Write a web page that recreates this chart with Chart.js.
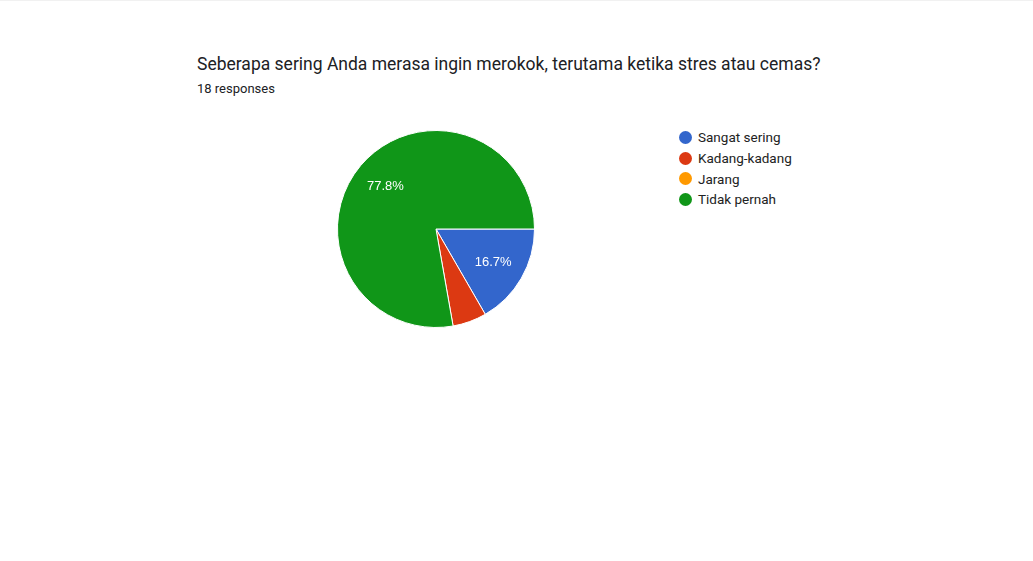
<!DOCTYPE html>
<html>
<head>
<meta charset="utf-8">
<script src="https://cdn.jsdelivr.net/npm/chart.js@4"></script>
<style>
  html, body { margin: 0; padding: 0; background: #fff; width: 1033px; height: 561px; overflow: hidden; }
  body { position: relative; border-top: 1px solid #f1f1f1; box-sizing: border-box; }
  #title { position: absolute; left: 197px; top: 53px; font-family: Roboto, sans-serif; font-size: 17.5px; color: #202124; white-space: nowrap; }
  #sub { position: absolute; left: 197px; top: 80px; font-family: Roboto, sans-serif; font-size: 13px; color: #202124; white-space: nowrap; }
  #wrap { position: absolute; left: 332px; top: 124px; width: 208px; height: 208px; }
  #legend { position: absolute; left: 679px; top: 126px; font-family: Roboto, sans-serif; font-size: 13.5px; color: #222; }
  .item { height: 20.7px; display: flex; align-items: center; white-space: nowrap; }
  .dot { width: 13px; height: 13px; border-radius: 50%; margin-right: 6px; flex: none; }
</style>
</head>
<body>
<div id="title"></div>
<div id="sub"></div>
<div id="wrap"><canvas id="c"></canvas></div>
<div id="legend"></div>
<script>
const titleText = "Seberapa sering Anda merasa ingin merokok, terutama ketika stres atau cemas?";
const subtitleText = "18 responses";
const categories = ["Sangat sering", "Kadang-kadang", "Jarang", "Tidak pernah"];
const counts = [3, 1, 0, 14];
const colors = ["#3366cc", "#dc3912", "#ff9900", "#109618"];

document.getElementById('title').textContent = titleText;
document.getElementById('sub').textContent = subtitleText;

const legend = document.getElementById('legend');
categories.forEach((c, i) => {
  const d = document.createElement('div');
  d.className = 'item';
  d.innerHTML = '<span class="dot" style="background:' + colors[i] + '"></span><span></span>';
  d.lastChild.textContent = c;
  legend.appendChild(d);
});

const total = counts.reduce((a, b) => a + b, 0);

const labelPlugin = {
  id: 'sliceLabels',
  afterDatasetsDraw(chart) {
    const ctx = chart.ctx;
    const meta = chart.getDatasetMeta(0);
    ctx.save();
    ctx.font = '13px "Liberation Sans", Arial, sans-serif';
    ctx.fillStyle = '#ffffff';
    ctx.textAlign = 'center';
    ctx.textBaseline = 'middle';
    meta.data.forEach((arc, i) => {
      const pct = counts[i] / total * 100;
      if (pct < 10) return;
      const p = arc.getProps(['x', 'y', 'startAngle', 'endAngle', 'outerRadius'], true);
      const mid = (p.startAngle + p.endAngle) / 2;
      const r = p.outerRadius * 0.67;
      ctx.fillText(pct.toFixed(1) + '%', p.x + Math.cos(mid) * r, p.y + Math.sin(mid) * r);
    });
    ctx.restore();
  }
};

new Chart(document.getElementById('c'), {
  type: 'pie',
  data: {
    labels: categories,
    datasets: [{
      data: counts,
      backgroundColor: colors,
      borderColor: '#ffffff',
      borderWidth: 1
    }]
  },
  options: {
    responsive: true,
    maintainAspectRatio: false,
    animation: false,
    rotation: 90,
    layout: { padding: 5 },
    plugins: {
      legend: { display: false },
      tooltip: { enabled: false }
    }
  },
  plugins: [labelPlugin]
});
</script>
</body>
</html>
